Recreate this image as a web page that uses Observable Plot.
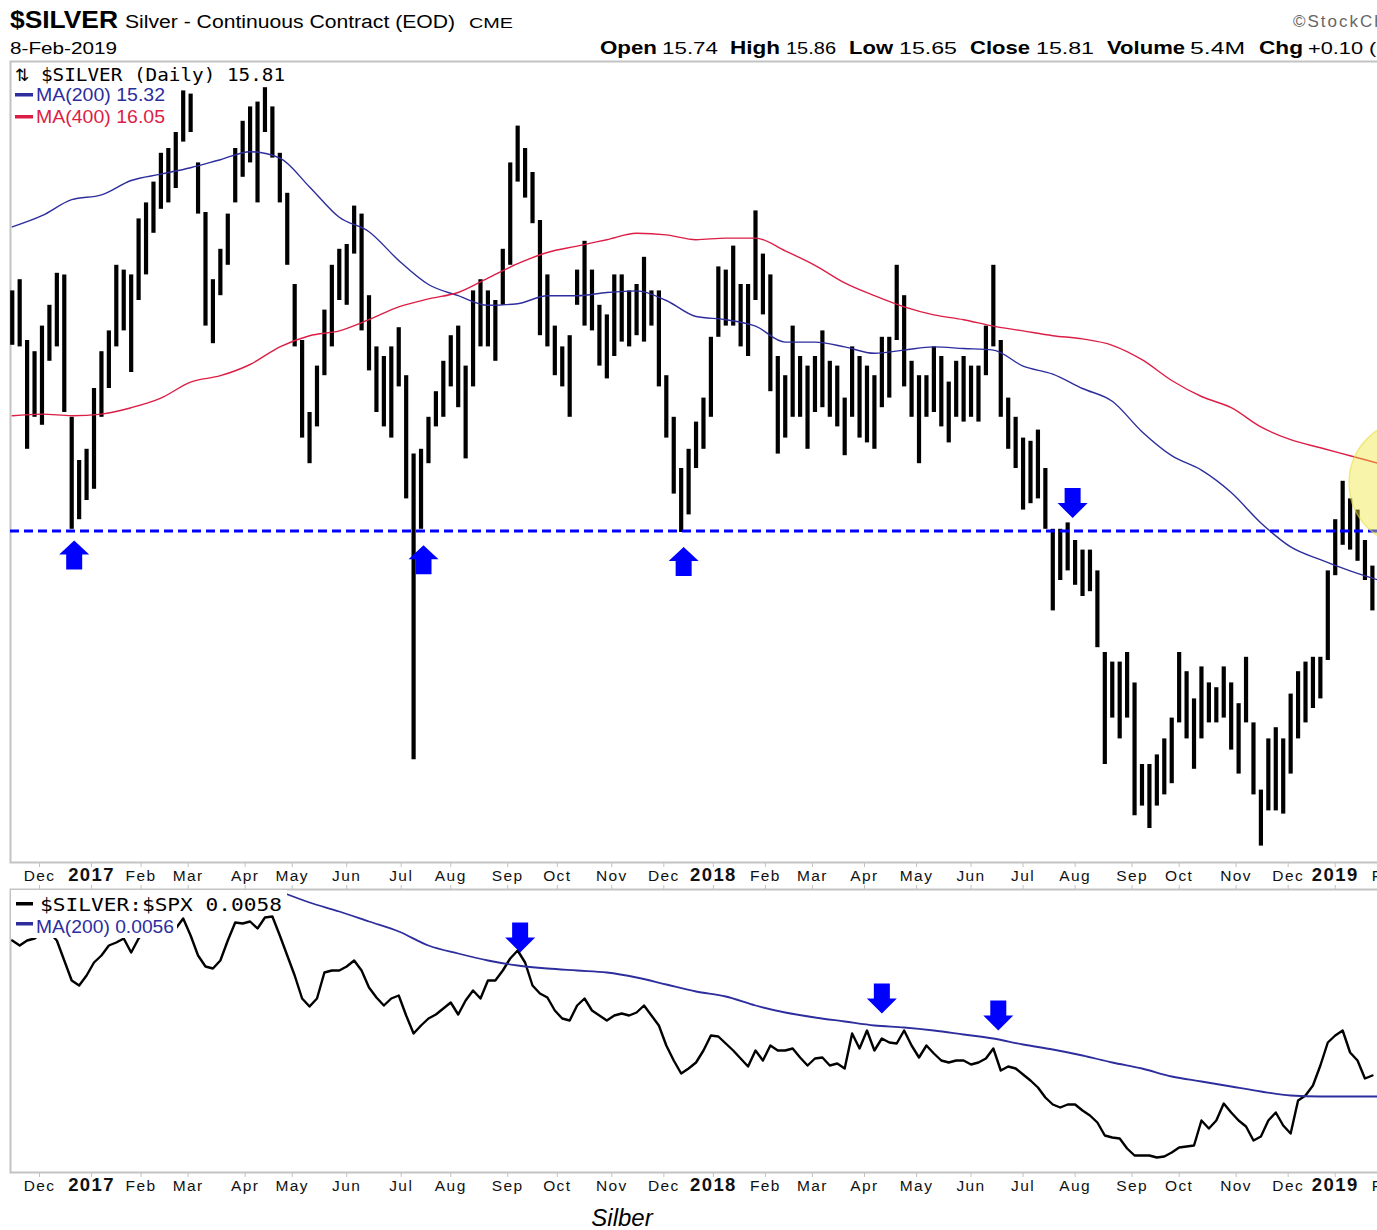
<!DOCTYPE html>
<html><head><meta charset="utf-8">
<script src="https://cdn.jsdelivr.net/npm/d3@7"></script>
<script src="https://cdn.jsdelivr.net/npm/@observablehq/plot@0.6"></script>
<style>
html,body{margin:0;padding:0;background:#fff;}
body{width:1377px;height:1230px;overflow:hidden;position:relative;font-family:"Liberation Sans",Arial,sans-serif;}
#main{position:absolute;left:0;top:60px;width:1440px;}
#lower{position:absolute;left:0;top:883px;width:1440px;}
#main svg,#lower svg{max-width:none !important;}
#overlay{position:absolute;left:0;top:0;pointer-events:none;}
</style></head><body>
<div id="main"></div><div id="lower"></div>
<svg id="overlay" width="1377" height="1230"></svg>
<script>
// ---------- calendar data ----------
const holidays = ["2016-11-24","2016-12-26","2017-01-02","2017-01-16","2017-02-20","2017-04-14","2017-05-29",
  "2017-07-04","2017-09-04","2017-11-23","2017-12-25","2018-01-01","2018-01-15","2018-02-19","2018-03-30",
  "2018-05-28","2018-07-04","2018-09-03","2018-11-22","2018-12-05","2018-12-25","2019-01-01","2019-01-21","2019-02-18"];
const monthNames = ["Jan","Feb","Mar","Apr","May","Jun","Jul","Aug","Sep","Oct","Nov","Dec"];

// ---------- price bars: one bar every 3 trading days, starting 2016-11-15 ----------
const firstBarDate = "2016-11-15";
const barStep = 3;
const silverHigh = [
 17.11,17.18,16.80,16.73,16.89,17.02,17.22,17.21,16.32,16.05,
 16.12,16.50,16.73,16.86,17.27,17.24,17.21,17.56,17.66,17.79,
 17.97,18.00,18.10,18.36,18.34,17.91,17.60,17.18,17.37,17.59,
 18.00,18.17,18.26,18.29,18.38,18.26,17.97,17.72,17.15,16.80,
 16.35,16.64,16.99,17.27,17.37,17.40,17.64,17.59,17.08,16.76,
 16.70,16.76,16.88,16.58,16.09,16.12,16.32,16.48,16.67,16.83,
 16.89,16.64,17.11,17.18,17.11,17.05,17.37,17.91,18.14,18.00,
 17.85,17.55,17.21,16.89,16.76,16.83,17.24,17.42,17.24,17.02,
 16.96,17.21,17.21,17.11,17.15,17.32,17.11,17.11,16.58,16.32,
 16.00,16.12,16.29,16.44,16.82,17.26,17.24,17.39,17.15,17.15,
 17.61,17.34,17.21,16.70,16.58,16.89,16.70,16.64,16.70,16.86,
 16.67,16.64,16.44,16.76,16.70,16.64,16.58,16.82,16.82,17.27,
 17.08,16.67,16.58,16.58,16.76,16.70,16.54,16.67,16.70,16.64,
 16.64,16.89,17.27,16.80,16.44,16.32,16.19,16.17,16.24,16.00,
 15.62,15.62,15.66,15.55,15.49,15.49,15.36,14.85,14.79,14.79,
 14.85,14.66,14.15,14.15,14.21,14.31,14.44,14.85,14.73,14.56,
 14.76,14.66,14.63,14.76,14.66,14.53,14.82,14.41,13.99,14.31,
 14.38,14.31,14.59,14.73,14.79,14.82,14.82,15.36,15.68,15.92,
 15.81,15.74,15.55,15.39];
const silverLow = [
 16.77,16.76,16.12,16.32,16.27,16.67,16.76,16.35,15.62,15.68,
 15.80,15.87,16.32,16.50,16.76,16.86,16.60,17.05,17.21,17.47,
 17.62,17.66,17.75,18.04,18.10,17.59,16.89,16.78,17.08,17.27,
 17.66,17.82,17.91,17.66,18.10,17.94,17.66,17.27,16.76,16.19,
 16.03,16.26,16.58,16.76,17.05,17.02,17.34,16.86,16.61,16.35,
 16.26,16.19,16.51,15.81,14.18,15.62,16.03,16.26,16.32,16.51,
 16.38,16.06,16.51,16.76,16.76,16.67,17.02,17.27,17.79,17.69,
 17.53,16.83,16.76,16.58,16.51,16.32,17.02,16.89,16.86,16.64,
 16.56,16.70,16.79,16.76,16.83,16.79,16.89,16.51,16.19,15.84,
 15.60,15.71,16.00,16.12,16.32,16.82,16.89,16.89,16.76,16.70,
 17.05,16.96,16.48,16.09,16.19,16.32,16.32,16.12,16.35,16.38,
 16.32,16.26,16.08,16.32,16.19,16.16,16.12,16.38,16.44,16.80,
 16.51,16.32,16.03,16.32,16.35,16.26,16.16,16.32,16.29,16.32,
 16.29,16.58,16.76,16.32,16.12,16.00,15.74,15.78,15.81,15.62,
 15.11,15.30,15.36,15.27,15.20,15.23,14.88,14.15,14.44,14.31,
 14.44,13.83,13.89,13.75,13.89,13.96,14.03,14.41,14.31,14.12,
 14.31,14.41,14.41,14.44,14.24,14.09,14.41,13.96,13.64,13.86,
 13.86,13.84,14.09,14.31,14.41,14.50,14.56,14.80,15.33,15.52,
 15.49,15.42,15.30,15.11];

// moving averages, one value every 4th bar
const maEvery = 4;
const ma200 = [
 17.51,17.58,17.68,17.71,17.80,17.84,17.88,17.93,17.98,17.94,
 17.76,17.57,17.48,17.30,17.15,17.08,17.02,17.03,17.08,17.08,
 17.10,17.11,17.05,16.95,16.93,16.89,16.79,16.79,16.76,16.72,
 16.74,16.76,16.75,16.74,16.64,16.59,16.50,16.42,16.23,16.08,
 15.99,15.85,15.66,15.51,15.43,15.36,15.30];
const ma400 = [
 16.33,16.34,16.33,16.34,16.38,16.44,16.54,16.58,16.65,16.76,
 16.83,16.86,16.93,17.01,17.06,17.10,17.19,17.28,17.35,17.39,
 17.43,17.47,17.46,17.43,17.44,17.44,17.36,17.27,17.16,17.08,
 17.01,16.96,16.93,16.89,16.86,16.83,16.81,16.77,16.68,16.55,
 16.45,16.38,16.26,16.18,16.13,16.08,16.03];

// $SILVER:$SPX ratio, one value per bar
const ratio = [
 0.00716,0.00711,0.00716,0.00718,0.00724,0.00724,0.00716,0.00696,0.00676,0.00671,
 0.00681,0.00694,0.00701,0.00711,0.00714,0.00718,0.00704,0.00718,0.00726,0.00728,
 0.00728,0.00726,0.00728,0.00738,0.00721,0.00701,0.00690,0.00688,0.00696,0.00716,
 0.00734,0.00733,0.00735,0.00728,0.00739,0.00740,0.00721,0.00701,0.00681,0.00658,
 0.00650,0.00658,0.00684,0.00686,0.00686,0.00690,0.00696,0.00686,0.00669,0.00659,
 0.00651,0.00658,0.00661,0.00641,0.00623,0.00631,0.00638,0.00642,0.00648,0.00654,
 0.00642,0.00656,0.00666,0.00658,0.00676,0.00676,0.00686,0.00698,0.00706,0.00694,
 0.00671,0.00663,0.00659,0.00646,0.00638,0.00636,0.00651,0.00658,0.00646,0.00641,
 0.00636,0.00641,0.00643,0.00641,0.00644,0.00651,0.00641,0.00631,0.00611,0.00596,
 0.00583,0.00588,0.00594,0.00606,0.00621,0.00620,0.00613,0.00606,0.00598,0.00590,
 0.00606,0.00596,0.00611,0.00606,0.00606,0.00608,0.00599,0.00591,0.00598,0.00599,
 0.00591,0.00593,0.00588,0.00623,0.00608,0.00626,0.00606,0.00618,0.00614,0.00613,
 0.00626,0.00611,0.00599,0.00611,0.00603,0.00596,0.00594,0.00596,0.00596,0.00592,
 0.00594,0.00598,0.00608,0.00586,0.00590,0.00588,0.00582,0.00576,0.00569,0.00559,
 0.00552,0.00549,0.00552,0.00552,0.00546,0.00541,0.00534,0.00521,0.00519,0.00518,
 0.00508,0.00501,0.00501,0.00501,0.00499,0.00500,0.00504,0.00509,0.00510,0.00511,
 0.00536,0.00528,0.00536,0.00553,0.00544,0.00536,0.00530,0.00516,0.00520,0.00536,
 0.00544,0.00531,0.00523,0.00556,0.00561,0.00571,0.00591,0.00614,0.00621,0.00626,
 0.00604,0.00596,0.00578,0.00581];
// ratio MA(200), one value every 4th bar starting at bar 36
const ratioMaFirstBar = 36;
const ratioMa200 = [
 0.00765,0.00754,0.00745,0.00735,0.00725,0.00711,0.00703,0.00696,0.00691,0.00688,
 0.00686,0.00684,0.00679,0.00672,0.00665,0.00660,0.00651,0.00644,0.00639,0.00635,
 0.00631,0.00629,0.00626,0.00622,0.00618,0.00612,0.00607,0.00601,0.00594,0.00588,
 0.00580,0.00575,0.00570,0.00565,0.00561,0.00560,0.00560,0.00560];

// annotations
const supportLevel = 15.61;
const upArrowNotes = [{date:"2016-12-21", value:15.55},{date:"2017-07-17", value:15.52},{date:"2017-12-13", value:15.51}];
const downArrowNotes = [{date:"2018-07-31", value:15.69}];
const ratioArrowNotes = [{date:"2017-09-11", value:0.00704},{date:"2018-04-11", value:0.00643},{date:"2018-06-18", value:0.00626}];
const circleNote = [{date:"2019-02-15", value:15.91}];

// ---------- build ----------
const fmt = d3.utcFormat("%Y-%m-%d");
const hol = new Set(holidays);
const calendar = d3.utcDays(new Date("2016-11-01"), new Date("2019-03-30"))
  .filter(d => d.getUTCDay() !== 0 && d.getUTCDay() !== 6 && !hol.has(fmt(d)));
const origin = calendar.findIndex(d => fmt(d) === "2016-12-01");
const idxOf = new Map(calendar.map((d, i) => [fmt(d), i - origin]));
const firstIdx = idxOf.get(firstBarDate);
const n = Math.min(silverHigh.length, silverLow.length);
const bars = d3.range(n).map(j => ({i: firstIdx + barStep*j, high: silverHigh[j], low: silverLow[j]}));
const ma200Rows = ma200.map((v,k) => ({i: firstIdx + barStep*maEvery*k, v}));
const ma400Rows = ma400.map((v,k) => ({i: firstIdx + barStep*maEvery*k, v}));
const ratioRows = ratio.map((v,j) => ({i: firstIdx + barStep*j, v}));
const ratioMaRows = ratioMa200.map((v,k) => ({i: firstIdx + barStep*(ratioMaFirstBar + maEvery*k), v}));
const note = arr => arr.map(d => ({i: idxOf.get(d.date), v: d.value}));
const monthTicks = d3.utcMonths(new Date("2016-12-01"), new Date("2019-03-01")).map(m => {
  const d = calendar.find(c => c >= m);
  const jan = m.getUTCMonth() === 0;
  return {i: idxOf.get(fmt(d)), label: jan ? String(m.getUTCFullYear()) : monthNames[m.getUTCMonth()], year: jan};
});

// scale layout
const W = 1440, pxPerDay = 2.4775, originX = 39, left = 10;
const xScale = {type: "linear", domain: [(left - originX)/pxPerDay, (W - originX)/pxPerDay], axis: null};

const upArrow = {draw(c){ c.moveTo(0,0); c.lineTo(15,14); c.lineTo(8,14); c.lineTo(8,29); c.lineTo(-8,29); c.lineTo(-8,14); c.lineTo(-15,14); c.closePath(); }};
const downArrow = {draw(c){ c.moveTo(0,0); c.lineTo(15,-15); c.lineTo(8,-15); c.lineTo(8,-30); c.lineTo(-8,-30); c.lineTo(-8,-15); c.lineTo(-15,-15); c.closePath(); }};

const NAVY = "#2d2d9e", RED = "#dc1e46", BLUE = "#0000ff", FRAME = "#c3c3c3";
const tickIdx = monthTicks.map(d => d.i);
const axisStyle = {fontFamily: "'Liberation Sans', Arial, sans-serif", letterSpacing: "1.4px", color: "#111", maxWidth: "none"};
const labelMarks = () => [
  Plot.text(monthTicks.filter(d => !d.year), {x: "i", text: "label", frameAnchor: "bottom", dy: 18, fontSize: 15.5, fill: "#111"}),
  Plot.text(monthTicks.filter(d => d.year), {x: "i", text: "label", frameAnchor: "bottom", dy: 18, fontSize: 18.5, fontWeight: "bold", fill: "#111"})
];

const mainChart = Plot.plot({
  width: W, height: 828, marginLeft: left, marginRight: 0, marginTop: 1, marginBottom: 26,
  style: axisStyle,
  x: xScale,
  y: {domain: [13.5375, 18.54375], axis: null},
  marks: [
    Plot.frame({stroke: FRAME, strokeWidth: 2}),
    Plot.ruleX(bars, {x: "i", y1: "low", y2: "high", stroke: "#000", strokeWidth: 4.2}),
    Plot.line(ma200Rows, {x: "i", y: "v", stroke: NAVY, strokeWidth: 1.4, curve: "monotone-x"}),
    Plot.line(ma400Rows, {x: "i", y: "v", stroke: RED, strokeWidth: 1.4, curve: "monotone-x"}),
    Plot.ruleY([supportLevel], {stroke: BLUE, strokeWidth: 3, strokeDasharray: "9,5"}),
    Plot.dot(note(circleNote), {x: "i", y: "v", r: 63, fill: "#eee636", fillOpacity: 0.42, stroke: "#e8de4a", strokeOpacity: 0.6, strokeWidth: 1.5}),
    Plot.dot(note(upArrowNotes), {x: "i", y: "v", symbol: upArrow, fill: BLUE, stroke: "none"}),
    Plot.dot(note(downArrowNotes), {x: "i", y: "v", symbol: downArrow, fill: BLUE, stroke: "none"}),
    Plot.axisX({anchor: "bottom", ticks: tickIdx, tickSize: 5, tickFormat: () => "", stroke: FRAME, label: null}),
    ...labelMarks()
  ]
});
mainChart.style.maxWidth = "none";
document.getElementById("main").appendChild(mainChart);

const lowerChart = Plot.plot({
  width: W, height: 319, marginLeft: left, marginRight: 0, marginTop: 6, marginBottom: 30,
  style: axisStyle,
  x: xScale,
  y: {domain: [0.00484, 0.00767], axis: null},
  marks: [
    Plot.frame({stroke: FRAME, strokeWidth: 2}),
    Plot.line(ratioRows, {x: "i", y: "v", stroke: "#000", strokeWidth: 2.4}),
    Plot.line(ratioMaRows, {x: "i", y: "v", stroke: NAVY, strokeWidth: 1.8, curve: "monotone-x", clip: true}),
    Plot.dot(note(ratioArrowNotes), {x: "i", y: "v", symbol: downArrow, fill: BLUE, stroke: "none"}),
    Plot.axisX({anchor: "top", ticks: tickIdx, tickSize: 5, tickFormat: () => "", stroke: FRAME, label: null}),
    Plot.axisX({anchor: "bottom", ticks: tickIdx, tickSize: 5, tickFormat: () => "", stroke: FRAME, label: null}),
    ...labelMarks()
  ]
});
lowerChart.style.maxWidth = "none";
document.getElementById("lower").appendChild(lowerChart);

// ---------- header, legends, caption ----------
const ov = d3.select("#overlay");
const SANS = "'Liberation Sans', Arial, sans-serif", MONO = "'DejaVu Sans Mono', monospace";
function t(x, y, s, o = {}) {
  const e = ov.append("text").attr("x", x).attr("y", y).text(s)
    .attr("font-family", o.family || SANS).attr("font-size", o.size || 16)
    .attr("font-weight", o.weight || "normal").attr("font-style", o.style || "normal")
    .attr("fill", o.fill || "#000").attr("text-anchor", o.anchor || "start");
  if (o.len) e.attr("textLength", o.len).attr("lengthAdjust", "spacingAndGlyphs");
  if (o.ls) e.attr("letter-spacing", o.ls);
  return e;
}
t(10, 28, "$SILVER", {size: 23, weight: "bold", len: 108});
t(125, 28, "Silver - Continuous Contract (EOD)", {size: 18, len: 330});
t(469, 28, "CME", {size: 14, len: 44});
t(10, 54, "8-Feb-2019", {size: 16, len: 107});
t(1293, 27, "\u00a9StockCharts.com", {size: 17, fill: "#666", ls: "2px"});
const hdr = [["Open",600,57,true],["15.74",662,56],["High",730,50,true],["15.86",786,50],["Low",849,44,true],["15.65",899,58],
  ["Close",970,60,true],["15.81",1036,58],["Volume",1107,78,true],["5.4M",1190,55],["Chg",1259,44,true],["+0.10 (+0.64%)",1308,150]];
hdr.forEach(([s,x,len,b]) => t(x, 54, s, {size: b ? 19 : 16, weight: b ? "bold" : "normal", len}));

// main legend
t(15, 81, "\u21c5", {size: 17, family: "'DejaVu Sans', sans-serif"});
t(41, 81, "$SILVER (Daily) 15.81", {family: MONO, size: 18, len: 244});
ov.append("rect").attr("x", 15).attr("y", 93).attr("width", 18).attr("height", 3.5).attr("fill", NAVY);
t(36, 100.5, "MA(200) 15.32", {size: 19, fill: NAVY, len: 129});
ov.append("rect").attr("x", 15).attr("y", 115).attr("width", 18).attr("height", 3.5).attr("fill", RED);
t(36, 122.5, "MA(400) 16.05", {size: 19, fill: RED, len: 129});

// lower legend (white box hides the line behind it)
ov.append("rect").attr("x", 11).attr("y", 890).attr("width", 276).attr("height", 25).attr("fill", "#fff");
ov.append("rect").attr("x", 11).attr("y", 914).attr("width", 166).attr("height", 24).attr("fill", "#fff");
ov.append("rect").attr("x", 16).attr("y", 902).attr("width", 17).attr("height", 3.5).attr("fill", "#000");
t(40, 911, "$SILVER:$SPX 0.0058", {family: MONO, size: 18, len: 242});
ov.append("rect").attr("x", 16).attr("y", 922).attr("width", 17).attr("height", 3.5).attr("fill", NAVY);
t(36, 933, "MA(200) 0.0056", {size: 19, fill: NAVY, len: 138});

// caption
t(622, 1226, "Silber", {size: 24, style: "italic", anchor: "middle"});
</script></body></html>
